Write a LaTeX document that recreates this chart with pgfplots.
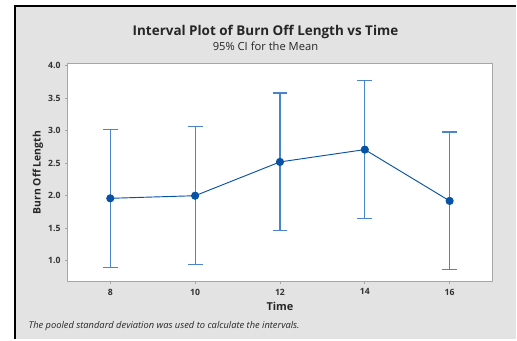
\documentclass[border=0pt]{standalone}
\usepackage{pgfplots}
\pgfplotsset{compat=1.18}
\usepackage{fontspec}
\setmainfont{Open Sans}
\definecolor{panelgray}{HTML}{E3E3E3}
\definecolor{ebblue}{HTML}{4A84CC}
\definecolor{meanblue}{HTML}{0752A6}
\definecolor{axgray}{HTML}{A6A6A6}
\begin{document}
\begin{tikzpicture}[x=0.75pt,y=0.75pt]
\fill[white] (0,0) rectangle (517,340);
\fill[panelgray] (15,0) rectangle (517,334);
\draw[black, line width=1.5pt] (15,0) -- (15,334) -- (517,334);
\begin{axis}[
  at={(51pt,43.5pt)}, anchor=south west, scale only axis,
  width=318.75pt, height=163.5pt,
  xmin=7, xmax=17, ymin=0.68, ymax=4.03,
  xtick={8,10,12,14,16},
  ytick={1.0,1.5,2.0,2.5,3.0,3.5,4.0},
  yticklabel style={/pgf/number format/.cd, fixed, fixed zerofill, precision=1},
  /pgf/number format/assume math mode=true,
  tick label style={font=\bfseries\fontsize{6.5}{7.5}\selectfont, text=black!80},
  tick align=outside, tick pos=left,
  major tick length=2pt,
  tick style={axgray, line width=0.5pt},
  axis line style={axgray, line width=0.75pt},
  axis background/.style={fill=white},
  clip=false,
]
\addplot[draw=none, mark=none,
  error bars/.cd, y dir=both, y explicit,
  error bar style={ebblue, line width=0.9pt},
  error mark options={rotate=90, ebblue, mark size=5.6pt, line width=0.9pt}]
  coordinates {
  (8,1.96) +- (0,1.06)
  (10,2.00) +- (0,1.06)
  (12,2.52) +- (0,1.06)
  (14,2.71) +- (0,1.06)
  (16,1.92) +- (0,1.06)
};
\addplot[meanblue, line width=0.7pt, mark=*, mark size=2.7pt, mark options={fill=meanblue, draw=meanblue}]
  coordinates {(8,1.96) (10,2.00) (12,2.52) (14,2.71) (16,1.92)};
\end{axis}
\node[font=\bfseries\fontsize{10.1}{12}\selectfont, text=black!85] at (266,308) {Interval Plot of Burn Off Length vs Time};
\node[font=\fontsize{8.4}{10}\selectfont, text=black!85] at (266,294) {95\% CI for the Mean};
\node[font=\bfseries\fontsize{7.8}{9}\selectfont, text=black!85, rotate=90] at (38,167) {Burn Off Length};
\node[font=\bfseries\fontsize{8.2}{10}\selectfont, text=black!85] at (280.5,33) {Time};
\node[font=\itshape\fontsize{7}{8}\selectfont, text=black!85, anchor=west] at (24,13) {The pooled standard deviation was used to calculate the intervals.};
\end{tikzpicture}
\end{document}
